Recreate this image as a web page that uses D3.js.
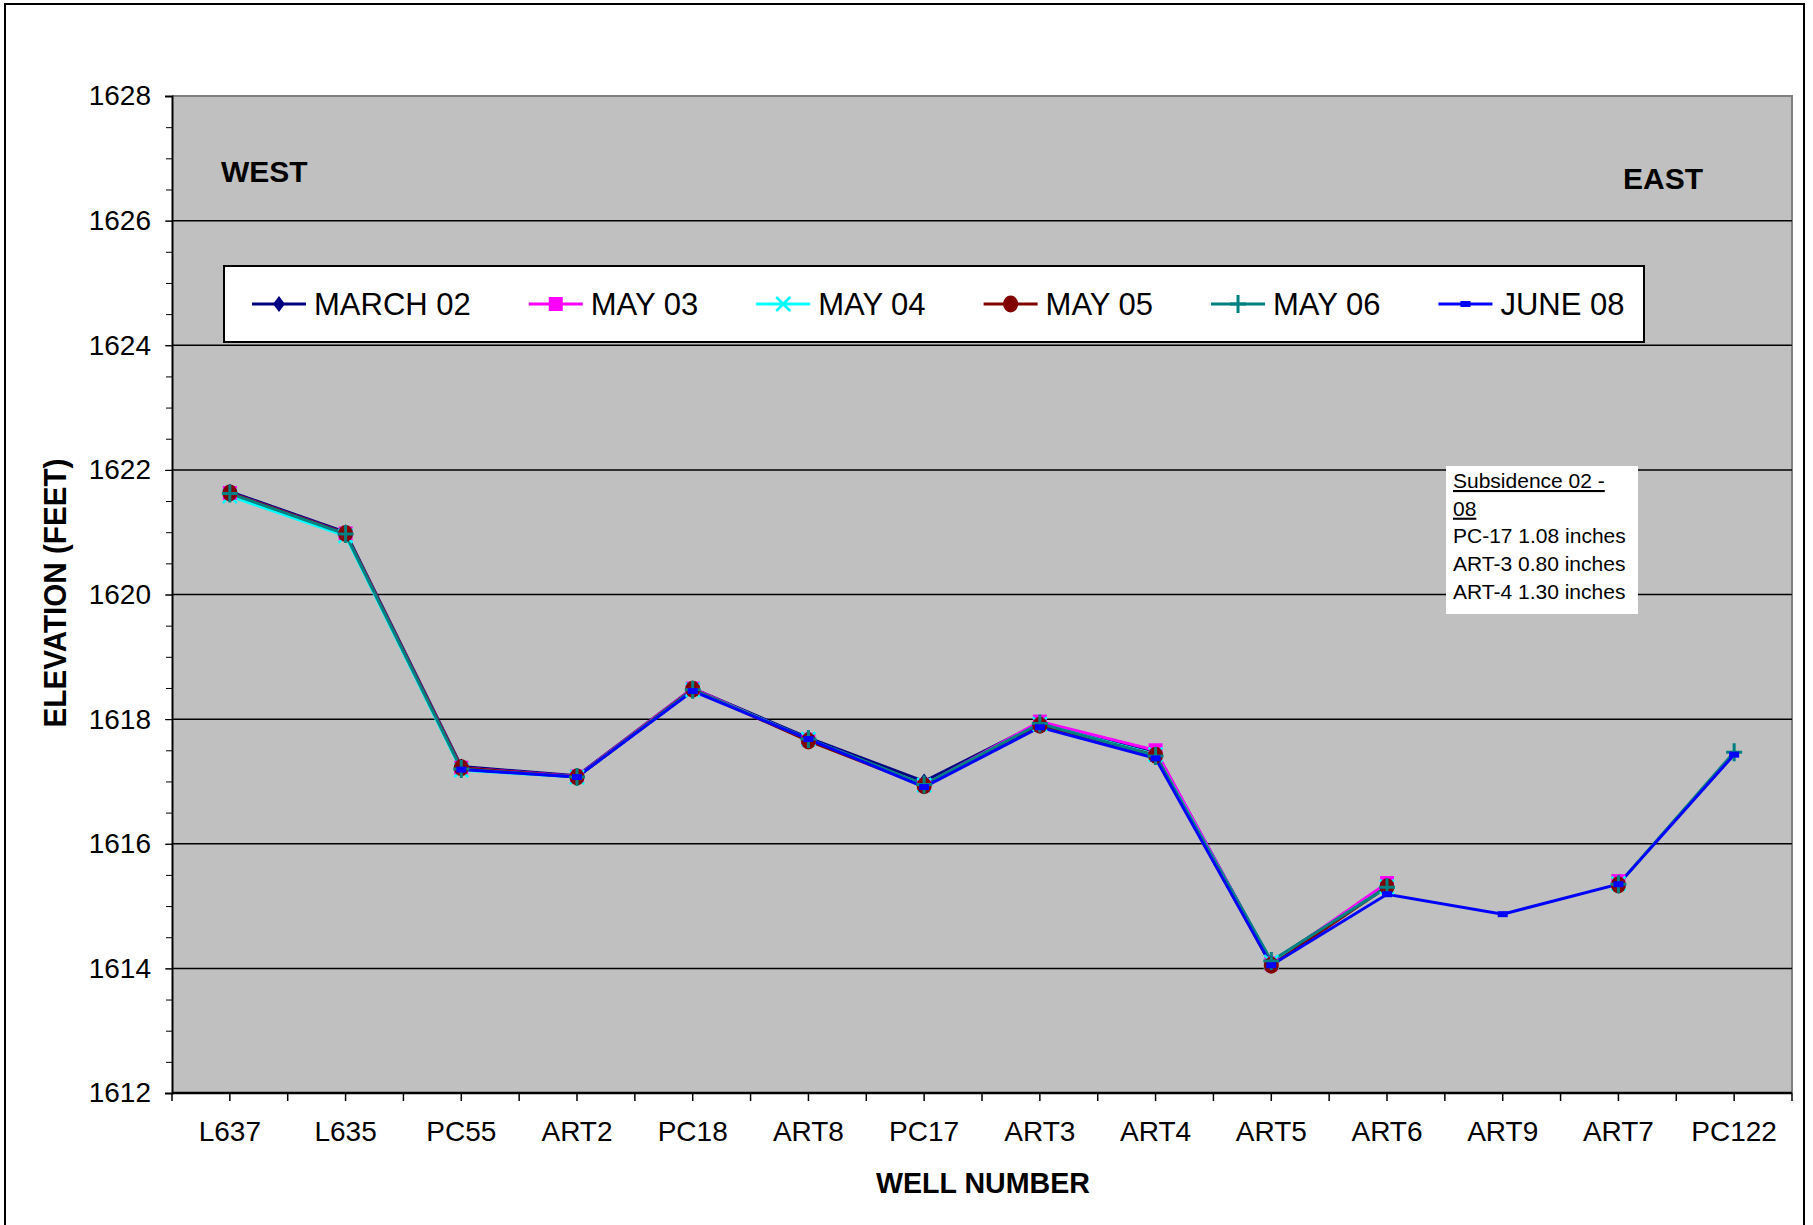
<!DOCTYPE html>
<meta charset="utf-8">
<style>
body { margin: 0; background: white; }
svg text { font-family: Arial, "Liberation Sans", sans-serif; fill: black; }
.grid line { stroke: #000; stroke-width: 1.5px; }
</style>
<svg width="1813" height="1225"></svg>
<script src="https://d3js.org/d3.v7.min.js"></script>
<script>
// wells, west to east
var wells = ["L637","L635","PC55","ART2","PC18","ART8","PC17","ART3","ART4","ART5","ART6","ART9","ART7","PC122"];

// elevations in feet, null = not surveyed
var march02 = [1621.65,1621.00,1617.24,1617.09,1618.49,1617.70,1617.00,1617.94,1617.48,1614.10,1615.33,null,1615.36,null];
var may03   = [1621.63,1620.98,1617.22,1617.08,1618.49,1617.67,1616.94,1617.96,1617.50,1614.08,1615.37,null,1615.40,null];
var may04   = [1621.58,1620.94,1617.18,1617.07,1618.47,1617.68,1616.94,1617.92,1617.43,1614.10,1615.31,null,1615.36,null];
var may05   = [1621.63,1620.98,1617.22,1617.07,1618.48,1617.65,1616.93,1617.90,1617.42,1614.05,1615.31,null,1615.34,null];
var may06   = [1621.62,1620.97,1617.20,1617.07,1618.47,1617.68,1616.95,1617.93,1617.41,1614.12,1615.30,null,1615.35,1617.47];
var june08  = [null,null,1617.19,1617.07,1618.45,1617.68,1616.91,1617.87,1617.37,1614.05,1615.19,1614.87,1615.35,1617.43];

var seriesNames = ["MARCH 02","MAY 03","MAY 04","MAY 05","MAY 06","JUNE 08"];
var yTicks = [1612,1614,1616,1618,1620,1622,1624,1626,1628];
var noteLines = ["Subsidence 02 -","08","PC-17 1.08 inches","ART-3 0.80 inches","ART-4 1.30 inches"];

var series = [
  {name: seriesNames[0], values: march02, color: "#000080", shape: "diamond"},
  {name: seriesNames[1], values: may03,   color: "#FF00FF", shape: "square"},
  {name: seriesNames[2], values: may04,   color: "#00FFFF", shape: "x"},
  {name: seriesNames[3], values: may05,   color: "#800000", shape: "circle"},
  {name: seriesNames[4], values: may06,   color: "#008080", shape: "plus"},
  {name: seriesNames[5], values: june08,  color: "#0000FF", shape: "dash"}
];

var svg = d3.select("svg");
// plot area bounds (named to avoid window.top)
var pLeft = 172, pRight = 1792, pTop = 96, pBottom = 1093;

// outer chart frame
svg.append("rect")
  .attr("x", 5).attr("y", 4).attr("width", 1799).attr("height", 1300)
  .attr("fill", "white").attr("stroke", "#000").attr("stroke-width", 2);

var x = d3.scaleBand().domain(wells).range([pLeft, pRight]);
var y = d3.scaleLinear().domain([1612, 1628]).range([pBottom, pTop]);

// plot area
svg.append("rect")
  .attr("x", pLeft).attr("y", pTop).attr("width", pRight - pLeft).attr("height", pBottom - pTop)
  .attr("fill", "#C0C0C0");
svg.append("path")
  .attr("d", "M" + pLeft + "," + pTop + "H" + pRight + "V" + pBottom)
  .attr("fill", "none").attr("stroke", "#808080").attr("stroke-width", 2);

svg.append("g").attr("class", "grid")
  .selectAll("line")
  .data(yTicks.filter(function(d) { return d > 1612 && d < 1628; }))
  .enter().append("line")
  .attr("x1", pLeft).attr("x2", pRight)
  .attr("y1", function(d) { return y(d); })
  .attr("y2", function(d) { return y(d); });

// y axis
var yAxis = d3.axisLeft(y).tickValues(yTicks).tickSize(7).tickPadding(14).tickFormat(d3.format("d"));
var gy = svg.append("g").attr("transform", "translate(" + pLeft + ",0)").call(yAxis);
gy.select(".domain").attr("stroke", "#000").attr("stroke-width", 2);
gy.selectAll("text").attr("font-size", 28).attr("font-family", "Arial, 'Liberation Sans', sans-serif");
var yMinor = d3.axisLeft(y).tickValues(d3.range(1612, 1628.01, 0.5)).tickSize(6).tickFormat("");
var gym = svg.append("g").attr("transform", "translate(" + pLeft + ",0)").call(yMinor);
gym.select(".domain").remove();

// x axis: ticks at category bounds and centres
var half = x.bandwidth() / 2;
var xTickPos = d3.range(0, wells.length * 2 + 1).map(function(i) { return pLeft + i * half; });
svg.append("g").selectAll("line").data(xTickPos).enter().append("line")
  .attr("x1", function(d) { return d; }).attr("x2", function(d) { return d; })
  .attr("y1", pBottom).attr("y2", pBottom + 8)
  .attr("stroke", "#000").attr("stroke-width", 1.5);
svg.append("line").attr("x1", pLeft).attr("x2", pRight).attr("y1", pBottom).attr("y2", pBottom)
  .attr("stroke", "#000").attr("stroke-width", 2.5);
svg.append("g").selectAll("text").data(wells).enter().append("text")
  .attr("x", function(d) { return x(d) + half; })
  .attr("y", 1141)
  .attr("text-anchor", "middle")
  .attr("font-size", 28)
  .text(function(d) { return d; });

// axis titles
svg.append("text")
  .attr("transform", "translate(66,593) rotate(-90)")
  .attr("text-anchor", "middle")
  .attr("font-size", 31).attr("font-weight", "bold")
  .attr("textLength", 269).attr("lengthAdjust", "spacingAndGlyphs")
  .text("ELEVATION (FEET)");
svg.append("text")
  .attr("x", 983).attr("y", 1193)
  .attr("text-anchor", "middle")
  .attr("font-size", 30).attr("font-weight", "bold")
  .attr("textLength", 214).attr("lengthAdjust", "spacingAndGlyphs")
  .text("WELL NUMBER");

svg.append("text").attr("x", 221).attr("y", 182)
  .attr("font-size", 30).attr("font-weight", "bold").text("WEST");
svg.append("text").attr("x", 1623).attr("y", 189)
  .attr("font-size", 30).attr("font-weight", "bold").text("EAST");

// marker drawing
function drawMarker(g, shape, color) {
  if (shape == "diamond") {
    g.append("path").attr("d", "M0,-8L6,0L0,8L-6,0Z").attr("fill", color);
  } else if (shape == "square") {
    g.append("rect").attr("x", -7).attr("y", -7).attr("width", 14).attr("height", 14).attr("fill", color);
  } else if (shape == "x") {
    g.append("path").attr("d", "M-7,-7L7,7M-7,7L7,-7").attr("stroke", color).attr("stroke-width", 2.5);
  } else if (shape == "circle") {
    g.append("ellipse").attr("rx", 7.5).attr("ry", 8.5).attr("fill", color);
  } else if (shape == "plus") {
    g.append("path").attr("d", "M-8,0H8M0,-9V9").attr("stroke", color).attr("stroke-width", 3);
  } else if (shape == "dash") {
    g.append("rect").attr("x", -5).attr("y", -3).attr("width", 10).attr("height", 6).attr("fill", color);
  }
}

var line = d3.line()
  .defined(function(d) { return d != null; })
  .x(function(d, i) { return x(wells[i]) + half; })
  .y(function(d) { return y(d); });

var plot = svg.append("g");
series.forEach(function(s) {
  plot.append("path")
    .datum(s.values)
    .attr("d", line)
    .attr("fill", "none")
    .attr("stroke", s.color)
    .attr("stroke-width", 3);
});
series.forEach(function(s) {
  s.values.forEach(function(v, i) {
    if (v == null) return;
    var g = plot.append("g").attr("transform", "translate(" + (x(wells[i]) + half) + "," + y(v) + ")");
    drawMarker(g, s.shape, s.color);
  });
});

// legend
var legend = svg.append("g");
legend.append("rect")
  .attr("x", 224).attr("y", 266).attr("width", 1420).attr("height", 76)
  .attr("fill", "white").attr("stroke", "#000").attr("stroke-width", 2);
var lx = 252;
series.forEach(function(s) {
  var item = legend.append("g").attr("transform", "translate(" + lx + ",304)");
  item.append("line").attr("x1", 0).attr("x2", 54).attr("y1", 0).attr("y2", 0)
    .attr("stroke", s.color).attr("stroke-width", 3);
  drawMarker(item.append("g").attr("transform", "translate(27,0)"), s.shape, s.color);
  var t = item.append("text").attr("x", 62).attr("y", 11).attr("font-size", 31).text(s.name);
  lx += 62 + t.node().getComputedTextLength() + 58;
});

// note box
svg.append("rect")
  .attr("x", 1446).attr("y", 466).attr("width", 192).attr("height", 148)
  .attr("fill", "white");
svg.append("g").selectAll("text").data(noteLines).enter().append("text")
  .attr("x", 1453)
  .attr("y", function(d, i) { return 488 + i * 27.7; })
  .attr("font-size", 21)
  .attr("text-decoration", function(d, i) { return i < 2 ? "underline" : null; })
  .text(function(d) { return d; });
</script>
